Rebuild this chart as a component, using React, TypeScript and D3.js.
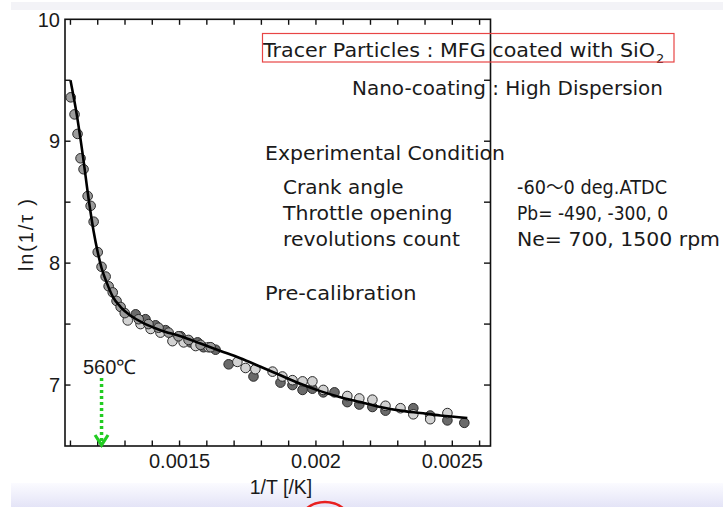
import React from "react";
import * as d3 from "d3";

const W = 723;
const H = 507;

// Fitted curve (1/T, ln(1/tau))
const curveX = [0.0011, 0.001123, 0.001145, 0.001167, 0.001185, 0.0012, 0.001214, 0.001233, 0.001254, 0.001284, 0.00132, 0.001375, 0.00143, 0.001504, 0.001577, 0.00165, 0.001723, 0.001797, 0.00187, 0.001943, 0.002016, 0.00209, 0.002163, 0.002236, 0.00231, 0.002383, 0.002456, 0.002555];
const curveY = [9.5, 9.22, 8.89, 8.52, 8.26, 8.09, 7.96, 7.84, 7.73, 7.64, 7.57, 7.5, 7.45, 7.4, 7.34, 7.28, 7.22, 7.15, 7.08, 7.01, 6.95, 6.9, 6.86, 6.82, 6.79, 6.77, 6.75, 6.73];

// Medium grey points
const medX = [0.001101, 0.001115, 0.001126, 0.001137, 0.001148, 0.001163, 0.001174, 0.001185, 0.0012, 0.001214, 0.001229, 0.00124, 0.001255, 0.001269, 0.001284, 0.001299, 0.00135, 0.001386, 0.001423, 0.00146, 0.001496, 0.001533, 0.001577, 0.001614];
const medY = [9.36, 9.22, 9.06, 8.86, 8.77, 8.55, 8.47, 8.34, 8.09, 7.97, 7.89, 7.81, 7.76, 7.69, 7.64, 7.59, 7.54, 7.5, 7.47, 7.43, 7.4, 7.37, 7.33, 7.31];

// Light grey points
const lightX = [0.00131, 0.001357, 0.001394, 0.00143, 0.001474, 0.001515, 0.001559, 0.001606, 0.001712, 0.001742, 0.001778, 0.001841, 0.001877, 0.001914, 0.001951, 0.001987, 0.002027, 0.002115, 0.002159, 0.002207, 0.002255, 0.00231, 0.002357, 0.002419, 0.002482];
const lightY = [7.53, 7.5, 7.46, 7.43, 7.36, 7.35, 7.32, 7.31, 7.19, 7.14, 7.13, 7.11, 7.07, 7.04, 7.03, 7.03, 6.96, 6.91, 6.89, 6.88, 6.83, 6.81, 6.76, 6.72, 6.77];

// Dark grey points
const darkX = [0.001339, 0.001375, 0.001412, 0.001449, 0.001504, 0.00154, 0.001566, 0.001588, 0.001632, 0.00168, 0.001771, 0.00187, 0.001914, 0.001951, 0.001987, 0.002027, 0.002068, 0.002115, 0.002159, 0.002207, 0.002255, 0.002357, 0.002419, 0.002482, 0.002544];
const darkY = [7.58, 7.54, 7.49, 7.45, 7.4, 7.35, 7.35, 7.31, 7.29, 7.17, 7.07, 7.02, 7.0, 6.96, 6.97, 6.94, 6.94, 6.86, 6.84, 6.82, 6.79, 6.81, 6.75, 6.71, 6.69];

const xMinorTicks = [0.0011, 0.0012, 0.0013, 0.0014, 0.0015, 0.0016, 0.0017, 0.0018, 0.0019, 0.002, 0.0021, 0.0022, 0.0023, 0.0024, 0.0025, 0.0026];
const xLabelTicks = [0.0015, 0.002, 0.0025];
const xLabelText = ["0.0015", "0.002", "0.0025"];
const yMinorTicks = [7, 7.5, 8, 8.5, 9, 9.5];
const yLabelTicks = [7, 8, 9, 10];
const yLabelText = ["7", "8", "9", "10"];

const markerTempLabel = "560℃";
const markerX = 0.001214;

const xScale = d3.scaleLinear().domain([0.00108, 0.00264]).range([65, 490.5]);
const yScale = d3.scaleLinear().domain([6.5, 10]).range([446, 19.3]);

const annFont = "'DejaVu Sans', 'Noto Sans CJK JP', sans-serif";
const axFont = "'Liberation Sans', Arial, sans-serif";

type Ann = { text: string; x: number; y: number; len: number };
const annotations: Ann[] = [
  { text: "Tracer Particles : MFG coated with SiO", x: 263, y: 56.5, len: 392 },
  { text: "Nano-coating : High Dispersion", x: 352, y: 95, len: 311 },
  { text: "Experimental Condition", x: 265, y: 159.5, len: 240 },
  { text: "Crank angle", x: 283, y: 193.5, len: 120.5 },
  { text: "Throttle opening", x: 283, y: 219.5, len: 169.5 },
  { text: "revolutions count", x: 283, y: 245.5, len: 177 },
  { text: "Pre-calibration", x: 265, y: 300, len: 151.5 },
  { text: "-60〜0 deg.ATDC", x: 517, y: 193.5, len: 150 },
  { text: "Pb= -490, -300, 0", x: 517, y: 219.5, len: 151 },
  { text: "Ne= 700, 1500 rpm", x: 517, y: 245.5, len: 203 },
];

function Points({ xs, ys, fill }: { xs: number[]; ys: number[]; fill: string }) {
  return (
    <g>
      {xs.map((v, i) => (
        <circle key={i} cx={xScale(v)} cy={yScale(ys[i])} r={4.8} fill={fill} stroke="#2a2a2a" strokeWidth={1} />
      ))}
    </g>
  );
}

export default function App() {
  const line = d3
    .line<number>()
    .x((_, i) => xScale(curveX[i]))
    .y((d) => yScale(d))
    .curve(d3.curveMonotoneX);
  const x0 = xScale.range()[0];
  const x1 = xScale.range()[1];
  const y0 = yScale.range()[0];
  const y1 = yScale.range()[1];
  const tl = 5.5;
  const mx = xScale(markerX);
  return (
    <svg width={W} height={H} style={{ position: "absolute", left: 0, top: 0, display: "block", background: "#fff" }}>
      <defs>
        <linearGradient id="bandBottom" x1="0" y1="0" x2="0" y2="1">
          <stop offset="0" stopColor="#fbfbff" />
          <stop offset="1" stopColor="#e4e4f7" />
        </linearGradient>
      </defs>
      <rect x={11} y={2} width={W - 11} height={8} fill="#f3f3f7" />
      <rect x={11} y={483} width={W - 11} height={H - 483} fill="url(#bandBottom)" />
      <ellipse cx={325} cy={524} rx={26} ry={22} fill="none" stroke="#e82020" strokeWidth={2.5} />

      {/* data points */}
      <Points xs={darkX} ys={darkY} fill="#6a6a6a" />
      <Points xs={lightX} ys={lightY} fill="#d2d2d2" />
      <Points xs={medX} ys={medY} fill="#9c9c9c" />

      {/* fitted curve */}
      <path d={line(curveY) || ""} fill="none" stroke="#000" strokeWidth={2.6} />

      {/* frame */}
      <rect x={x0} y={y1} width={x1 - x0} height={y0 - y1} fill="none" stroke="#111" strokeWidth={1.6} />
      {xMinorTicks.map((t) => (
        <g key={"xt" + t}>
          <line x1={xScale(t)} x2={xScale(t)} y1={y0} y2={y0 - tl} stroke="#111" strokeWidth={1.4} />
          <line x1={xScale(t)} x2={xScale(t)} y1={y1} y2={y1 + tl} stroke="#111" strokeWidth={1.4} />
        </g>
      ))}
      {yMinorTicks.map((t) => (
        <g key={"yt" + t}>
          <line x1={x0} x2={x0 + tl} y1={yScale(t)} y2={yScale(t)} stroke="#111" strokeWidth={1.4} />
          <line x1={x1} x2={x1 - tl - 1} y1={yScale(t)} y2={yScale(t)} stroke="#111" strokeWidth={1.4} />
        </g>
      ))}
      {xLabelTicks.map((t, i) => (
        <text key={"xl" + t} x={xScale(t)} y={468} textAnchor="middle" fontFamily={axFont} fontSize={20} fill="#1a1a1a">
          {xLabelText[i]}
        </text>
      ))}
      {yLabelTicks.map((t, i) => (
        <text key={"yl" + t} x={60} y={yScale(t) + 7.2} textAnchor="end" fontFamily={axFont} fontSize={20} fill="#1a1a1a">
          {yLabelText[i]}
        </text>
      ))}
      <text x={281} y={494} textAnchor="middle" fontFamily={axFont} fontSize={19.5} fill="#1a1a1a">
        1/T [/K]
      </text>
      <text transform="translate(33,235) rotate(-90)" textAnchor="middle" fontFamily={axFont} fontSize={20} fill="#1a1a1a" textLength={72} lengthAdjust="spacing">
        ln(1/τ )
      </text>

      {/* 560C marker */}
      <text x={83} y={374} fontFamily={axFont} fontSize={20} fill="#1a1a1a">
        {markerTempLabel}
      </text>
      <line x1={mx} x2={mx} y1={378} y2={443} stroke="#22cc22" strokeWidth={3.5} strokeDasharray="3,3" />
      <polyline points={`${mx - 6.5},${435} ${mx},${445} ${mx + 6.5},${435}`} fill="none" stroke="#22cc22" strokeWidth={3.2} />

      {/* annotations */}
      {annotations.map((a) => (
        <text key={a.text} x={a.x} y={a.y} fontFamily={annFont} fontSize={19.5} fill="#1a1a1a" textLength={a.len} lengthAdjust="spacingAndGlyphs">
          {a.text}
        </text>
      ))}
      <text x={656} y={63} fontFamily={annFont} fontSize={13} fill="#1a1a1a">
        2
      </text>
      <rect x={262.5} y={33.5} width={411.5} height={28.5} fill="none" stroke="#e84545" strokeWidth={1.2} />
    </svg>
  );
}
